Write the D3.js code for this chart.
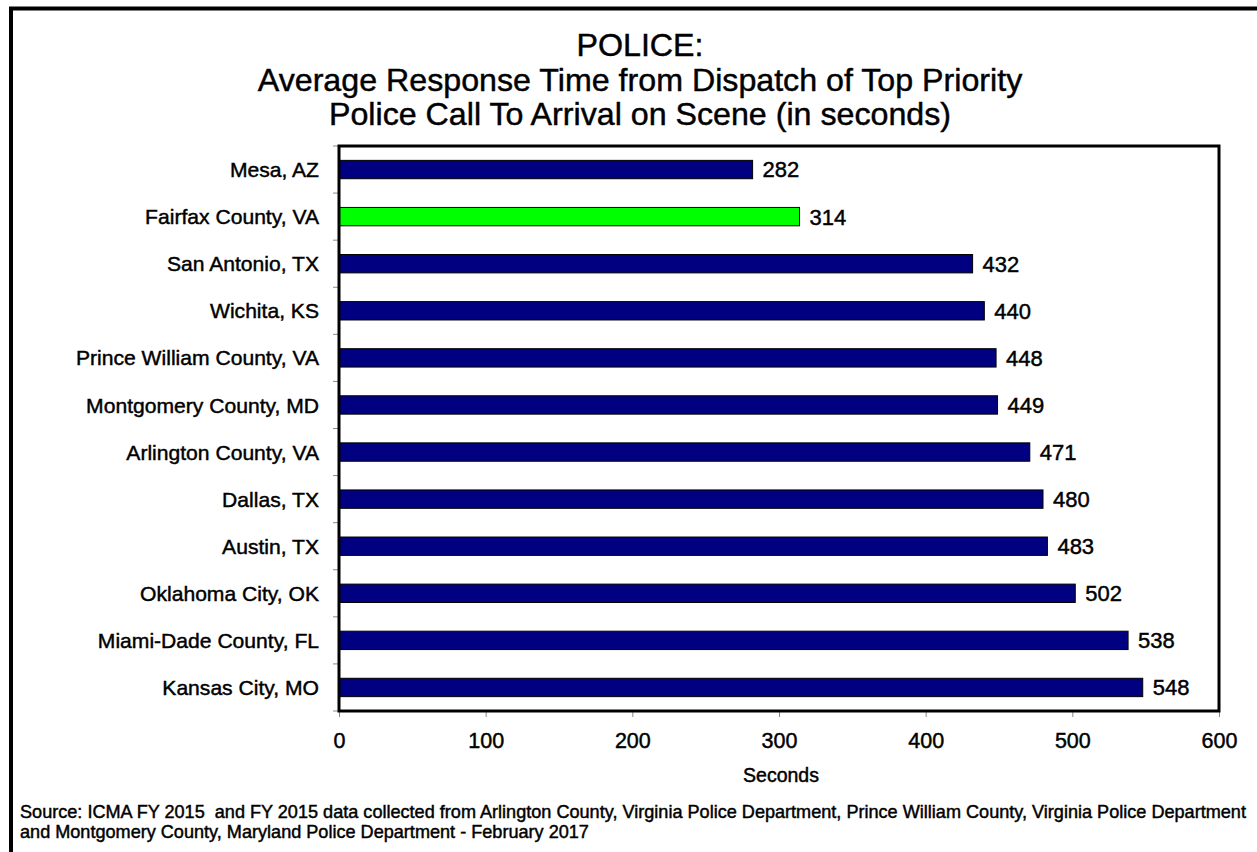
<!DOCTYPE html>
<html>
<head>
<meta charset="utf-8">
<script src="https://cdn.jsdelivr.net/npm/d3@7"></script>
<style>
  html, body { margin: 0; padding: 0; background: #fff; }
  svg { display: block; font-family: "Liberation Sans", Arial, sans-serif; }
  text { fill: #000; stroke: #000; stroke-width: 0.45px; white-space: pre; }
</style>
</head>
<body>
<svg id="chart" width="1257" height="852"></svg>
<script>
const categories = ["Mesa, AZ", "Fairfax County, VA", "San Antonio, TX", "Wichita, KS",
  "Prince William County, VA", "Montgomery County, MD", "Arlington County, VA",
  "Dallas, TX", "Austin, TX", "Oklahoma City, OK", "Miami-Dade County, FL", "Kansas City, MO"];
const values = [282, 314, 432, 440, 448, 449, 471, 480, 483, 502, 538, 548];
const highlight = ["Fairfax County, VA"];
const xTicks = [0, 100, 200, 300, 400, 500, 600];
const titleLines = ["POLICE:", "Average Response Time from Dispatch of Top Priority",
  "Police Call To Arrival on Scene (in seconds)"];
const xAxisTitle = "Seconds";
const sourceLines = ["Source: ICMA FY 2015  and FY 2015 data collected from Arlington County, Virginia Police Department, Prince William County, Virginia Police Department",
  "and Montgomery County, Maryland Police Department - February 2017"];

const svg = d3.select("#chart");
const plot = { left: 339, right: 1219, top: 146, bottom: 711 };

// outer frame
svg.append("rect").attr("x", 11).attr("y", 8.5).attr("width", 1300).attr("height", 900)
  .attr("fill", "none").attr("stroke", "#000").attr("stroke-width", 4);

const x = d3.scaleLinear().domain([0, 600]).range([plot.left, plot.right]);
const y = d3.scaleBand().domain(categories).range([plot.top, plot.bottom]).paddingInner(0.61).paddingOuter(0.305);
const yb = d3.scaleBand().domain(categories).range([plot.top, plot.bottom]);

// title
svg.append("g").selectAll("text").data(titleLines).join("text")
  .attr("x", 640).attr("y", (d, i) => 56 + i * 34.5)
  .attr("text-anchor", "middle").attr("font-size", 32.2)
  .text(d => d);

// y ticks at band boundaries
const bounds = categories.map(c => yb(c)).concat([plot.bottom]);
svg.append("g").selectAll("line").data(bounds).join("line")
  .attr("x1", plot.left - 6).attr("x2", plot.left).attr("y1", d => d).attr("y2", d => d)
  .attr("stroke", "#888").attr("stroke-width", 1);

// x axis
const xAxis = d3.axisBottom(x).tickValues(xTicks).tickSize(6).tickPadding(16);
const gx = svg.append("g").attr("transform", `translate(0,${plot.bottom})`).call(xAxis);
gx.select(".domain").remove();
gx.selectAll(".tick line").attr("stroke", "#888");
gx.selectAll(".tick text").attr("font-size", 21.5)
  .attr("font-family", "Liberation Sans, Arial, sans-serif");

// bars
svg.append("g").selectAll("rect").data(categories).join("rect")
  .attr("x", x(0)).attr("y", d => y(d))
  .attr("width", (d, i) => x(values[i]) - x(0)).attr("height", y.bandwidth())
  .attr("fill", d => highlight.includes(d) ? "#00FF00" : "#000080")
  .attr("stroke", "#000").attr("stroke-width", 1);

// value labels
svg.append("g").selectAll("text").data(categories).join("text")
  .attr("x", (d, i) => x(values[i]) + 10).attr("y", d => y(d) + y.bandwidth() / 2)
  .attr("dy", "0.36em").attr("font-size", 22)
  .text((d, i) => values[i]);

// category labels
svg.append("g").selectAll("text").data(categories).join("text")
  .attr("x", plot.left - 20).attr("y", d => yb(d) + yb.bandwidth() / 2)
  .attr("dy", "0.36em").attr("text-anchor", "end").attr("font-size", 21.1)
  .text(d => d);

// plot border
svg.append("rect").attr("x", plot.left).attr("y", plot.top)
  .attr("width", plot.right - plot.left).attr("height", plot.bottom - plot.top)
  .attr("fill", "none").attr("stroke", "#000").attr("stroke-width", 3);

// x axis title
svg.append("text").attr("x", x(300) + 2).attr("y", 782).attr("text-anchor", "middle")
  .attr("font-size", 19.5).text(xAxisTitle);

// source
svg.append("g").selectAll("text").data(sourceLines).join("text")
  .attr("x", 20).attr("y", (d, i) => 818 + i * 19.5)
  .attr("font-size", 18.1).text(d => d);
</script>
</body>
</html>
